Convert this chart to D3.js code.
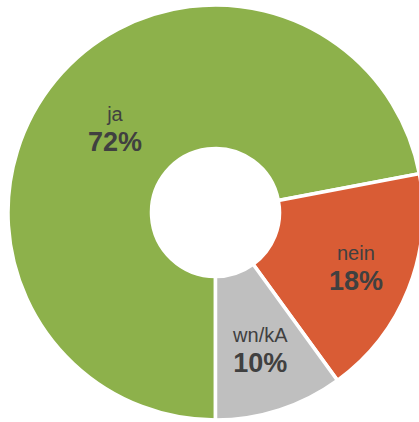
<!DOCTYPE html>
<html>
<head>
<meta charset="utf-8">
<script src="https://cdn.jsdelivr.net/npm/d3@7/dist/d3.min.js"></script>
<style>
  html, body { margin: 0; padding: 0; background: #ffffff; }
  svg { display: block; }
</style>
</head>
<body>
<svg id="chart" width="419" height="422"></svg>
<script>
// Survey answers and their shares (percent)
const categories = ["ja", "nein", "wn/kA"];
const shares = [72, 18, 10];
const colors = ["#8DB14B", "#D95C35", "#BFBFBF"];

const width = 419, height = 422;
const cx = 215.5, cy = 212.5;
const outerR = 207.5, innerR = 64;

const svg = d3.select("#chart");
const g = svg.append("g").attr("transform", `translate(${cx},${cy})`);

const pie = d3.pie()
  .value(d => d.value)
  .sort(null)
  .startAngle(Math.PI)
  .endAngle(Math.PI * 3);

const data = categories.map((c, i) => ({ name: c, value: shares[i], color: colors[i] }));
const arcs = pie(data);

const arc = d3.arc().innerRadius(innerR).outerRadius(outerR);

g.selectAll("path.slice")
  .data(arcs)
  .join("path")
  .attr("class", "slice")
  .attr("d", arc)
  .attr("fill", d => d.data.color)
  .attr("stroke", "#ffffff")
  .attr("stroke-width", 3.5)
  .attr("stroke-linejoin", "miter");

// label distance from the centre: the large slice keeps its label closer in
const labelRadius = d => (d.endAngle - d.startAngle > Math.PI ? 130.5 : (d.data.value > 15 ? 151 : 145));

const labels = g.selectAll("g.label")
  .data(arcs)
  .join("g")
  .attr("class", "label")
  .attr("transform", d => {
    const r = labelRadius(d);
    const a = (d.startAngle + d.endAngle) / 2;
    return `translate(${r * Math.sin(a)},${-r * Math.cos(a)})`;
  });

labels.append("text")
  .attr("text-anchor", "middle")
  .attr("y", -8.5)
  .attr("font-family", "Liberation Sans, Arial, sans-serif")
  .attr("font-size", 20)
  .attr("fill", "#404040")
  .text(d => d.data.name);

labels.append("text")
  .attr("text-anchor", "middle")
  .attr("y", 22)
  .attr("font-family", "Liberation Sans, Arial, sans-serif")
  .attr("font-size", 27)
  .attr("font-weight", "bold")
  .attr("fill", "#404040")
  .text(d => d.data.value + "%");
</script>
</body>
</html>
